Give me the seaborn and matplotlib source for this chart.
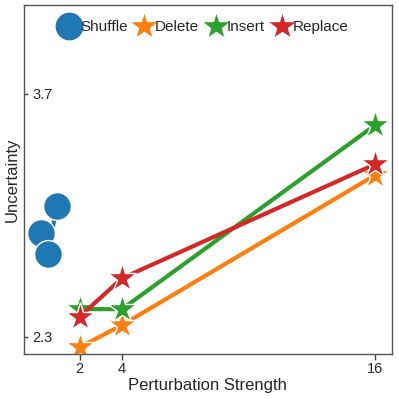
import pandas as pd
import matplotlib.pyplot as plt
import seaborn as sns
from matplotlib.lines import Line2D

# values
methods = ["Shuffle", "Delete", "Insert", "Replace"]
shuffle_x = [0.15, 0.5, 0.9]
shuffle_y = [2.895, 2.776, 3.052]
strength = [2, 4, 16]
delete_y = [2.239, 2.366, 3.23]
insert_y = [2.458, 2.458, 3.518]
replace_y = [2.415, 2.636, 3.293]

colors = {"Shuffle": "#1f77b4", "Delete": "#ff7f0e", "Insert": "#2ca02c", "Replace": "#d62728"}
markers = {"Shuffle": "o", "Delete": "*", "Insert": "*", "Replace": "*"}
sizes = {"Shuffle": 20, "Delete": 21, "Insert": 21, "Replace": 21}

rows = []
for x, y in zip(shuffle_x, shuffle_y):
    rows.append(("Shuffle", x, y))
for name, ys in [("Delete", delete_y), ("Insert", insert_y), ("Replace", replace_y)]:
    for x, y in zip(strength, ys):
        rows.append((name, x, y))
df = pd.DataFrame(rows, columns=["method", "strength", "uncertainty"])

sns.set_style("white")
plt.rcParams['font.family'] = ['Liberation Sans', 'DejaVu Sans']

fig = plt.figure(figsize=(3.99, 3.99), dpi=100)
ax = fig.add_axes([0.06, 0.113, 0.922, 0.874])

for m in methods:
    sub = df[df["method"] == m]
    sns.lineplot(data=sub, x="strength", y="uncertainty", color=colors[m],
                 marker=markers[m], markersize=sizes[m], markeredgecolor="white",
                 markeredgewidth=1, linewidth=3, ax=ax, legend=False)

ax.set_xlim(-0.65, 16.8)
ax.set_ylim(2.2, 4.21)
ax.set_xticks(strength)
ax.set_yticks([2.3, 3.7])
ax.set_yticklabels(["2.3", "3.7"])
ax.tick_params(axis="x", direction="out", length=4, width=1, color="#444444",
               labelsize=10.5, pad=2, bottom=True)
ax.tick_params(axis="y", direction="in", length=3, width=1, color="#444444",
               labelsize=10.5, pad=-6, left=True)
for lbl in ax.get_yticklabels():
    lbl.set_horizontalalignment("left")
ax.set_xlabel("Perturbation Strength", fontsize=12, labelpad=1)
ax.set_ylabel("Uncertainty", fontsize=12, labelpad=3)
for s in ax.spines.values():
    s.set_color("#555555")
    s.set_linewidth(1)

handles = [Line2D([], [], linestyle="none", marker=markers[m], color=colors[m],
                  markersize=sizes[m] + 1,
                  markeredgecolor="white", markeredgewidth=1) for m in methods]
ax.legend(handles, methods, loc="upper center", ncol=4, frameon=False,
          fontsize=11, handletextpad=0.1, columnspacing=0.5,
          handlelength=1.2, bbox_to_anchor=(0.49, 0.997))

fig.savefig("out.png", dpi=100)
